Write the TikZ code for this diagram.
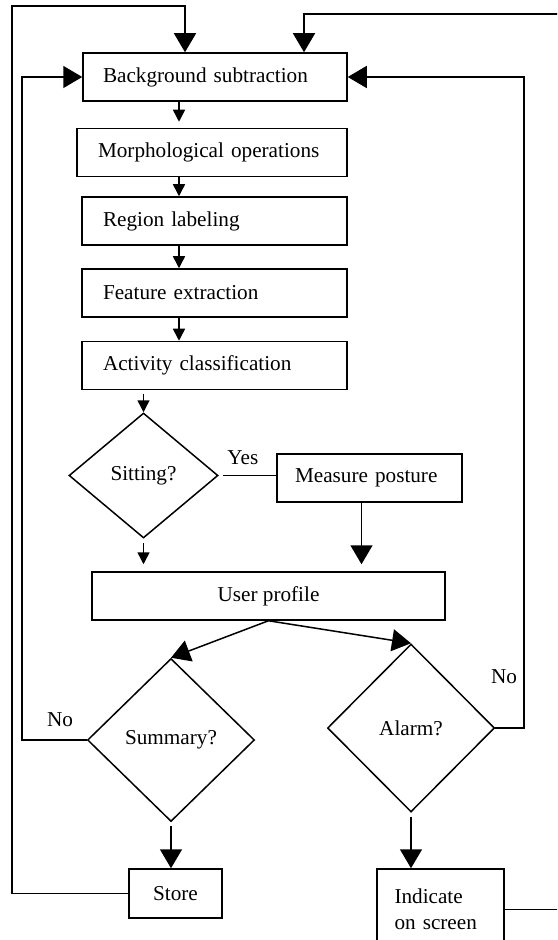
\documentclass[tikz,border=0pt]{standalone}
\usepackage{fontspec}
\setmainfont{Liberation Serif}
\usetikzlibrary{shapes.geometric,arrows.meta}

\tikzset{
  stage/.style={draw, rectangle, line width=0.75pt, minimum height=24pt, inner ysep=2pt, align=left},
  query/.style={draw, diamond, line width=0.75pt, inner sep=0pt},
  bigarrow/.style={line width=0.75pt, -{Triangle[length=9.5pt,width=11pt]}},
  smallarrow/.style={line width=0.75pt, -{Triangle[length=6pt,width=6pt]}},
}

\begin{document}
\begin{tikzpicture}[x=0.5pt, y=-0.5pt, every node/.style={font=\fontsize{10.6}{13}\selectfont}]
  \useasboundingbox (0,0) rectangle (557,940);
  \clip (0,0) rectangle (557,940);

  % processing chain
  \node[stage, text width=112pt, inner xsep=10pt] (bg) at (215,77) {Background subtraction};
  \node[stage, text width=114pt, inner xsep=10.5pt] (morph) at (212,152.5) {Morphological operations};
  \node[stage, text width=111.5pt, inner xsep=10.5pt] (region) at (214.5,221) {Region labeling};
  \node[stage, text width=111.5pt, inner xsep=10.5pt] (feature) at (214.5,293) {Feature extraction};
  \node[stage, text width=111.5pt, inner xsep=10.5pt] (activity) at (214.5,365.5) {Activity classification};

  % decisions
  \node[query, minimum width=74.5pt, minimum height=62.5pt] (sitting) at (143.5,475.5) {Sitting?};
  \node[stage, text width=74.5pt, inner xsep=9pt] (measure) at (369.5,478) {Measure posture};
  \node[stage, minimum width=176.5pt] (profile) at (268.5,596) {User profile};
  \node[query, minimum width=83.5pt, minimum height=81.5pt] (summary) at (171,740) {Summary?};
  \node[query, minimum width=83.5pt, minimum height=84pt] (alarm) at (411,728) {Alarm?};
  \node[stage, minimum width=46.5pt, minimum height=24.5pt] (store) at (175.5,893.5) {Store};
  \node[stage, text width=46pt, inner xsep=8.75pt, minimum height=40.5pt] (indicate) at (440.5,909.5) {Indicate\\on screen};

  \node (noA) at (60,720) {No};
  \node (noB) at (504,677) {No};

  % rails
  \coordinate (spine) at (179,0);
  \coordinate (railA) at (12,6);
  \coordinate (railB) at (22,0);
  \coordinate (railC) at (524,0);
  \coordinate (dropA) at (185,6);
  \coordinate (dropB) at (304,14);
  \coordinate (offR) at (600,14);

  \draw[smallarrow, shorten >=3pt] (bg.south -| spine) -- (morph.north -| spine);
  \draw[smallarrow] (morph.south -| spine) -- (region.north -| spine);
  \draw[smallarrow] (region.south -| spine) -- (feature.north -| spine);
  \draw[smallarrow] (feature.south -| spine) -- (activity.north -| spine);
  \draw[smallarrow, shorten <=2pt] (activity.south -| sitting.north) -- (sitting.north);
  \draw[line width=0.75pt, shorten <=2pt] (sitting.east) -- (sitting.east -| measure.west) node[pos=0.42, above, yshift=1.5pt] (yes) {Yes};
  \draw[bigarrow, shorten >=3.5pt] ([xshift=-4pt]measure.south) -- ([xshift=-4pt]measure.south |- profile.north);
  \draw[smallarrow, shorten <=2pt, shorten >=3.5pt] (sitting.south) -- (sitting.south |- profile.north);
  \draw[bigarrow] (profile.south) -- (summary.north);
  \draw[bigarrow] (profile.south) -- (alarm.north);
  \draw[bigarrow, shorten <=2pt] (summary.south) -- (summary.south |- store.north);
  \draw[bigarrow, shorten <=2pt] (alarm.south) -- (alarm.south |- indicate.north);

  % feedback loops
  \draw[bigarrow] (store.west) -| (railA) -- (dropA) -- (dropA |- bg.north);
  \draw[bigarrow] (summary.west) -| (railB |- bg.west) -- (bg.west);
  \draw[bigarrow] (alarm.east) -| (railC |- bg.east) -- (bg.east);
  \draw[bigarrow] (indicate.east) -| (offR) -- (dropB) -- (dropB |- bg.north);
\end{tikzpicture}
\end{document}
